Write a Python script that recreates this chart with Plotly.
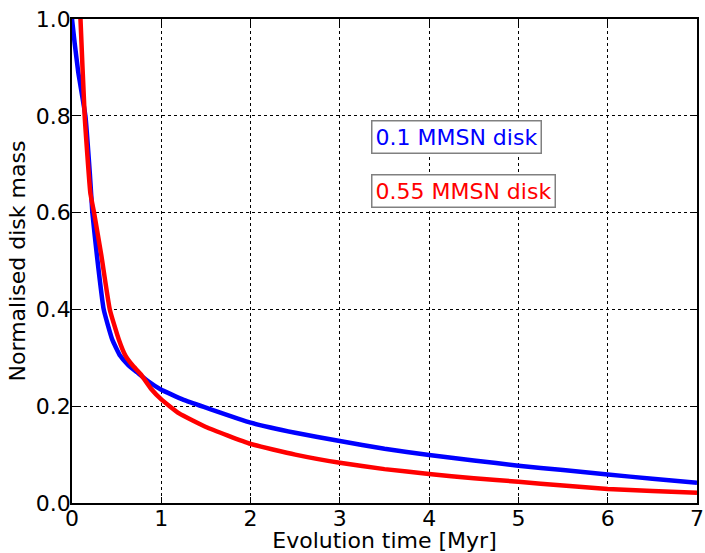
import plotly.graph_objects as go

# Data
t_blue = [0.0, 0.03, 0.07, 0.15, 0.2, 0.228, 0.28, 0.355, 0.45, 0.54, 0.63, 0.73, 0.85, 0.99,
          1.25, 1.5, 2.0, 2.5, 3.0, 3.5, 4.0, 4.5, 5.0, 5.5, 6.0, 6.5, 7.0]
m_blue = [1.0, 0.95, 0.89, 0.80, 0.68, 0.60, 0.51, 0.40, 0.338, 0.304, 0.285, 0.27, 0.252, 0.235,
          0.213, 0.197, 0.166, 0.145, 0.128, 0.112, 0.099, 0.088, 0.077, 0.068, 0.059, 0.050, 0.042]

t_red = [0.085, 0.095, 0.142, 0.206, 0.247, 0.33, 0.423, 0.524, 0.6, 0.68, 0.77, 0.89, 1.0,
         1.2, 1.5, 2.0, 2.5, 3.0, 3.5, 4.0, 4.5, 5.0, 5.5, 6.0, 6.5, 7.0]
m_red = [1.05, 1.0, 0.80, 0.64, 0.60, 0.51, 0.40, 0.338, 0.304, 0.284, 0.266, 0.235, 0.214,
         0.185, 0.157, 0.122, 0.100, 0.083, 0.070, 0.060, 0.051, 0.044, 0.036, 0.029, 0.025, 0.021]

labels = ["0.1 MMSN disk", "0.55 MMSN disk"]
colors = ["#0000ff", "#ff0000"]

fig = go.Figure()
fig.add_trace(go.Scatter(x=t_blue, y=m_blue, mode="lines",
                         line=dict(color=colors[0], width=4.5, shape="spline", smoothing=0.4),
                         name=labels[0], showlegend=False))
fig.add_trace(go.Scatter(x=t_red, y=m_red, mode="lines",
                         line=dict(color=colors[1], width=4.5, shape="spline", smoothing=0.4),
                         name=labels[1], showlegend=False))

font = dict(family="DejaVu Sans", size=22, color="black")

axis_common = dict(
    showline=True, linecolor="black", linewidth=1.5, mirror="ticks",
    ticks="inside", ticklen=6, tickwidth=1, tickcolor="black",
    showgrid=True, gridcolor="black", griddash="dot", gridwidth=1,
    zeroline=False, tickfont=font, automargin=False,
)

fig.update_xaxes(range=[0, 7], dtick=1, ticklabelstandoff=-5,
                 title=dict(text="Evolution time [Myr]", font=font, standoff=0),
                 **axis_common)
fig.update_yaxes(range=[0, 1], dtick=0.2, tickformat=".1f", ticklabelstandoff=-5,
                 title=dict(text="Normalised disk mass", font=font, standoff=4), **axis_common)

fig.add_annotation(x=4.31, y=0.757, xref="x", yref="y", text=labels[0], showarrow=False,
                   font=dict(family="DejaVu Sans", size=22, color=colors[0]),
                   bgcolor="white", bordercolor="#808080", borderwidth=1.5, borderpad=3)
fig.add_annotation(x=4.39, y=0.644, xref="x", yref="y", text=labels[1], showarrow=False,
                   font=dict(family="DejaVu Sans", size=22, color=colors[1]),
                   bgcolor="white", bordercolor="#808080", borderwidth=1.5, borderpad=3)

fig.update_layout(
    width=705, height=553,
    margin=dict(l=72, r=8, t=19, b=50),
    plot_bgcolor="white", paper_bgcolor="white",
    font=font,
)

fig.write_html(
    "out.html",
    config={"displayModeBar": False},
    post_script="document.body.style.margin='0';document.body.style.overflow='hidden';"
                "document.documentElement.style.overflow='hidden';",
)
